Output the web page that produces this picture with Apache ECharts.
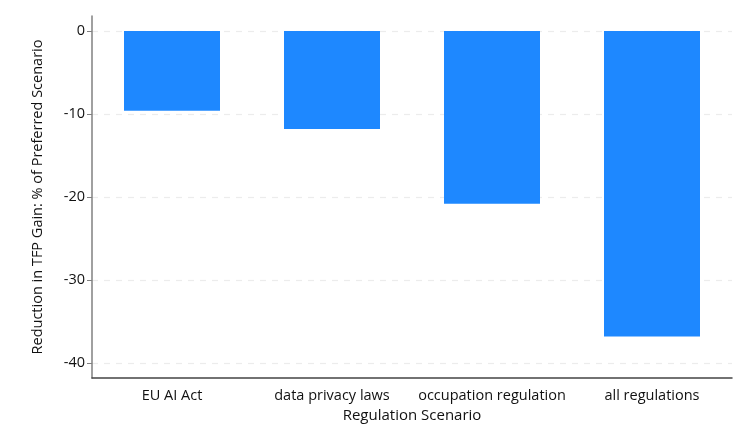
<!DOCTYPE html>
<html><head><meta charset="utf-8">
<script src="https://cdn.jsdelivr.net/npm/echarts@6/dist/echarts.min.js"></script>
<style>html,body{margin:0;padding:0;background:#fff}#c{width:755px;height:430px}</style>
</head><body><div id="c"></div>
<script>
const categories = ["EU AI Act", "data privacy laws", "occupation regulation", "all regulations"];
const values = [-9.6, -11.8, -20.8, -36.8];
const yTicks = [0, -10, -20, -30, -40];

const chart = echarts.init(document.getElementById('c'), null, {renderer: 'canvas'});
const font = '"Open Sans", "Noto Sans", sans-serif';
chart.setOption({
  animation: false,
  textStyle: {fontFamily: font},
  grid: {left: 92, right: 23, top: 16, bottom: 52, containLabel: false},
  xAxis: {
    type: 'category',
    data: categories,
    name: 'Regulation Scenario',
    nameLocation: 'middle',
    nameGap: 24,
    nameTextStyle: {fontSize: 15, color: '#111', fontFamily: font},
    axisLine: {show: true, onZero: false, lineStyle: {color: '#444', width: 1.5}},
    axisTick: {show: false},
    axisLabel: {fontSize: 14.5, color: '#111', margin: 10, fontFamily: font, interval: 0},
    splitLine: {show: false}
  },
  yAxis: {
    type: 'value',
    min: -41.8,
    max: 1.8,
    interval: 10,
    name: 'Reduction in TFP Gain: % of Preferred Scenario',
    nameLocation: 'middle',
    nameGap: 47,
    nameRotate: 90,
    nameTextStyle: {fontSize: 14.5, color: '#111', fontFamily: font},
    axisLine: {show: true, lineStyle: {color: '#808080', width: 1.5}},
    axisTick: {show: true, length: 5, lineStyle: {color: '#808080'}, customValues: yTicks},
    axisLabel: {fontSize: 14.5, color: '#111', margin: 7, fontFamily: font, customValues: yTicks},
    splitLine: {show: true, lineStyle: {color: '#ececec', type: [6, 6], width: 1.2}, customValues: yTicks}
  },
  series: [{
    type: 'bar',
    data: values,
    barWidth: 96,
    itemStyle: {color: '#1E88FF'}
  }]
});
</script></body></html>
